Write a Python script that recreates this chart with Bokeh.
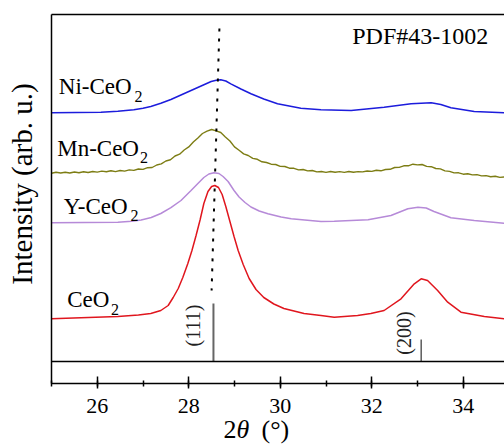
import numpy as np
from math import pi

from bokeh.plotting import figure
from bokeh.models import Label, LinearAxis, Range1d, SingleIntervalTicker
from bokeh.embed import file_html
from bokeh.resources import INLINE

# ---- XRD patterns (2theta in degrees, stacked intensity in arb. units) ----
ni_two_theta = [25.00, 26.08, 26.45, 26.80, 27.00, 27.17, 27.39, 27.61, 27.83, 28.05,
                28.27, 28.49, 28.60, 28.70, 28.81, 28.92, 29.14, 29.36, 29.64, 29.94,
                30.45, 30.89, 31.55, 32.27, 32.86, 33.30, 33.51, 33.73, 34.24, 34.90]
ni_intensity = [270.7, 271.3, 272.2, 273.8, 275.2, 277.0, 280.3, 284.0, 288.5, 293.0,
                297.5, 302.0, 303.3, 303.7, 302.5, 299.7, 294.5, 289.7, 284.5, 279.7,
                275.3, 273.7, 273.0, 276.3, 279.7, 280.7, 279.0, 275.7, 272.0, 270.7]

# Mn-CeO2 is a raw (noisy) scan sampled every 0.1 degree from 25.0 to 34.9
mn_two_theta = np.round(np.arange(250, 350) / 10.0, 1)
mn_intensity = [
    210.3, 211.2, 210.5, 211.3, 210.5, 211.5, 210.8, 211.7, 211.0, 212.0,
    211.4, 212.4, 211.7, 212.7, 211.9, 213.0, 212.4, 213.6, 213.1, 214.5,
    214.1, 215.8, 216.0, 218.5, 219.6, 222.5, 223.7, 227.5, 229.3, 233.5,
    236.6, 241.5, 245.6, 250.0, 252.4, 254.0, 252.6, 251.0, 246.6, 242.5,
    236.6, 233.2, 229.6, 228.0, 225.1, 224.2, 221.7, 221.0, 219.3, 219.0,
    217.1, 217.0, 215.3, 215.2, 213.6, 214.0, 212.6, 213.0, 211.6, 212.0,
    211.1, 212.0, 211.2, 211.9, 211.1, 212.0, 211.2, 211.9, 211.6, 212.5,
    212.1, 213.2, 212.7, 214.0, 214.2, 216.0, 216.1, 217.7, 217.7, 219.3,
    218.6, 219.0, 217.1, 216.8, 215.0, 214.6, 212.6, 212.1, 210.6, 210.7,
    209.3, 209.7, 208.6, 208.9, 207.6, 207.9, 206.8, 207.2, 206.1, 206.6,
]

y_two_theta = [25.00, 26.45, 26.75, 26.96, 27.18, 27.39, 27.61, 27.83, 28.05, 28.20,
               28.33, 28.44, 28.55, 28.66, 28.75, 28.86, 28.99, 29.10, 29.23, 29.36,
               29.54, 29.73, 30.02, 30.24, 30.89, 31.18, 31.92, 32.42, 32.79, 33.01,
               33.19, 33.36, 33.73, 34.24, 34.90]
y_intensity = [160.7, 161.3, 162.2, 163.5, 166.0, 170.0, 175.8, 183.0, 193.0, 200.0,
               206.0, 209.5, 210.7, 210.0, 207.0, 202.0, 193.0, 186.5, 181.0, 176.5,
               172.5, 169.7, 166.5, 164.7, 162.0, 162.3, 163.7, 168.0, 174.7, 176.3,
               175.5, 172.0, 165.7, 163.0, 160.3]

ceo2_two_theta = [25.00, 26.45, 26.90, 27.17, 27.39, 27.55, 27.66, 27.77, 27.87, 27.98,
                  28.07, 28.16, 28.25, 28.33, 28.42, 28.50, 28.57, 28.65, 28.73, 28.81,
                  28.90, 28.99, 29.08, 29.19, 29.32, 29.47, 29.64, 29.86, 30.08, 30.52,
                  30.89, 31.18, 31.69, 31.98, 32.27, 32.64, 32.93, 33.08, 33.22, 33.44,
                  33.66, 33.95, 34.46, 34.90]
ceo2_intensity = [64.7, 67.0, 68.4, 70.0, 73.0, 78.0, 86.0, 95.0, 106.0, 120.0,
                  133.0, 148.0, 164.0, 180.0, 192.0, 197.0, 198.0, 196.0, 189.0, 177.0,
                  162.0, 147.0, 133.0, 119.0, 105.0, 94.0, 86.0, 79.5, 75.0, 70.0,
                  68.0, 66.3, 68.0, 70.0, 73.0, 84.7, 99.7, 104.7, 103.0, 93.0,
                  81.3, 71.3, 67.0, 64.7]

series_names = ["Ni-CeO", "Mn-CeO", "Y-CeO", "CeO"]
series_colors = ["#1c1cdc", "#7d7d14", "#b68ad8", "#e0161e"]

# ---- standard pattern PDF#43-1002 ----
pdf_two_theta = [28.54, 33.08]
pdf_height = [58.0, 22.0]
pdf_hkl = ["(111)", "(200)"]
pdf_base = 22.0

# guide through the (111) maxima
guide_two_theta = [28.67, 28.50]
guide_intensity = [355.0, 93.0]

FONT = "Liberation Serif"
W, H = 504, 446
LEFT, BASE_PY = 51, 383          # canvas pixel of 2theta = 25 and of intensity = 0
PX_PER_X = 45.75
X_START = 25.0
Y_TOP = 369.0                    # top frame line of the panel


def dx(px):
    return X_START + (px - LEFT) / PX_PER_X


def dy(py):
    return BASE_PY - py


def mid(py_baseline, size):
    """y of a middle-anchored text whose alphabetic baseline sits at py_baseline."""
    return dy(py_baseline - 0.38 * size)


X_END = dx(W)

# the plotting frame spans the whole canvas; axes are pinned with fixed_location
p = figure(width=W, height=H, x_range=Range1d(dx(0), X_END), y_range=Range1d(dy(H), dy(0)),
           output_backend="svg", toolbar_location=None, min_border=0,
           x_axis_location=None, y_axis_location=None)
p.outline_line_color = None
p.grid.visible = False
p.background_fill_color = "white"
p.border_fill_color = "white"

# bottom axis
xa = LinearAxis(fixed_location=0, bounds=(X_START, X_END),
                ticker=SingleIntervalTicker(interval=2, num_minor_ticks=2))
xa.axis_line_width = 1.5
xa.axis_line_color = "black"
xa.major_tick_line_width = 1.5
xa.minor_tick_line_width = 1.5
xa.major_tick_in = 7
xa.major_tick_out = 5
xa.minor_tick_in = 3
xa.minor_tick_out = 3
xa.major_label_text_font = FONT
xa.major_label_text_font_size = "22px"
xa.major_label_text_color = "black"
xa.major_label_standoff = 10
p.add_layout(xa, "below")

# left frame line
ya = LinearAxis(fixed_location=X_START, bounds=(0, Y_TOP), ticker=[],
                major_label_text_font_size="0px", axis_line_width=1.5,
                axis_line_color="black")
p.add_layout(ya, "left")

# top frame line
top = LinearAxis(fixed_location=Y_TOP, bounds=(X_START, X_END), ticker=[],
                 major_label_text_font_size="0px", axis_line_width=1.5,
                 axis_line_color="black")
p.add_layout(top, "above")

# separator between the patterns and the standard
sep = LinearAxis(fixed_location=pdf_base, bounds=(X_START, X_END), ticker=[],
                 major_label_text_font_size="0px", axis_line_width=1.5,
                 axis_line_color="black")
p.add_layout(sep, "below")

# patterns
for xs, ys, c, w in [(ni_two_theta, ni_intensity, series_colors[0], 1.5),
                     (list(mn_two_theta), mn_intensity, series_colors[1], 1.4),
                     (y_two_theta, y_intensity, series_colors[2], 1.5),
                     (ceo2_two_theta, ceo2_intensity, series_colors[3], 1.5)]:
    p.line(xs, ys, line_color=c, line_width=w)

# dotted guide
p.line(guide_two_theta, guide_intensity, line_color="black", line_width=2,
       line_dash="3 7")

# standard reflections
p.segment(x0=pdf_two_theta, y0=[pdf_base] * 2, x1=pdf_two_theta,
          y1=[pdf_base + h for h in pdf_height],
          line_color=["#666666", "#333333"], line_width=[2.0, 1.2])

for hkl, cx, cy in zip(pdf_hkl, [dx(192), dx(403.7)], [dy(325), dy(332.5)]):
    p.add_layout(Label(x=cx, y=cy, text=hkl, angle=pi / 2, text_align="center",
                       text_baseline="middle", text_font=FONT,
                       text_font_size="20px", text_color="#222222"))

# series labels with subscript 2
label_pos = [(58.3, 95, 134.0, 102.5), (56.7, 156.7, 139.5, 163.5),
             (63.3, 214.5, 130.0, 221.0), (66.7, 308.0, 110.5, 315.0)]
for name, (mx, my, sx, sy) in zip(series_names, label_pos):
    p.add_layout(Label(x=dx(mx), y=mid(my, 23), text=name, text_font=FONT,
                       text_font_size="23px", text_color="black",
                       text_baseline="middle"))
    p.add_layout(Label(x=dx(sx), y=mid(sy, 16), text="2", text_font=FONT,
                       text_font_size="16px", text_color="black",
                       text_baseline="middle"))

p.add_layout(Label(x=dx(351.7), y=mid(45, 24), text="PDF#43-1002", text_font=FONT,
                   text_font_size="24px", text_color="black",
                   text_baseline="middle"))

# axis titles
p.add_layout(Label(x=dx(21), y=dy(183.5), text="Intensity (arb. u.)", angle=pi / 2,
                   text_align="center", text_baseline="middle", text_font=FONT,
                   text_font_size="29px", text_color="black"))
p.add_layout(Label(x=dx(223), y=mid(439, 26), text="2", text_font=FONT,
                   text_font_size="26px", text_color="black",
                   text_baseline="middle"))
p.add_layout(Label(x=dx(236), y=mid(439, 26), text="\u03b8", text_font=FONT,
                   text_font_style="italic", text_font_size="26px",
                   text_color="black", text_baseline="middle"))
p.add_layout(Label(x=dx(261), y=mid(439, 26), text="(\u00b0)", text_font=FONT,
                   text_font_size="26px", text_color="black",
                   text_baseline="middle"))

open("out.html", "w").write(file_html(p, INLINE))
